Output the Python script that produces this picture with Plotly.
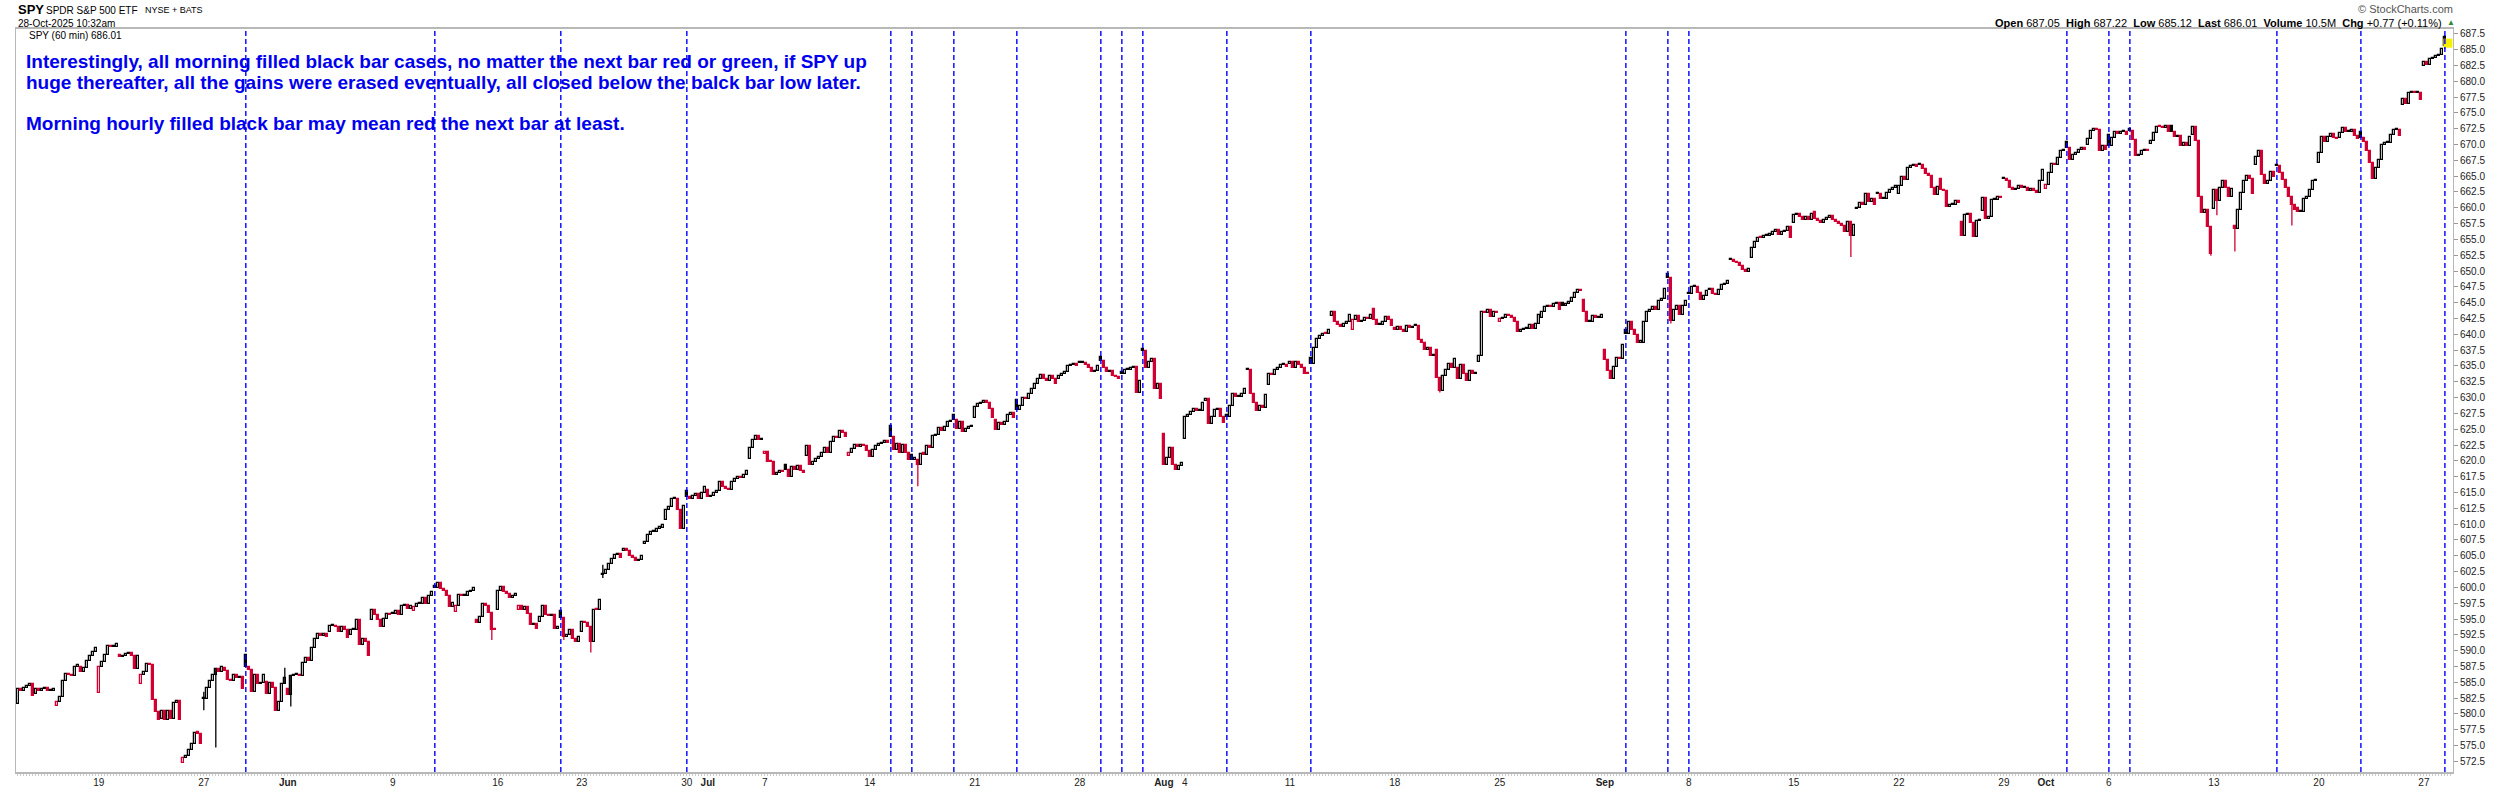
import pandas as pd
import plotly.graph_objects as go

# 交易日历 (60 min K线, 2025-05-13 10:30 起)
holidays = ["2025-05-26", "2025-06-19", "2025-07-04", "2025-09-01"]
trade_days = [d.strftime("%Y-%m-%d") for d in pd.bdate_range("2025-05-13", "2025-10-28")
              if d.strftime("%Y-%m-%d") not in holidays]

# 每日开盘价
day_opens = [
    581.5, 583.2, 581.2, 587.5, 583.3, 589.3, 584.7, 579.2, 572.2, 582.3, 587.3, 589.3, 585.0,
    584.0, 588.9, 593.0, 592.5, 594.9, 595.8, 596.3, 600.3, 596.1, 594.8, 596.5, 596.4, 594.5,
    596.3, 593.0, 602.0, 605.7, 606.9, 610.7, 615.3,
    615.4, 615.4, 620.3, 621.1, 619.4, 620.7, 622.0, 620.7, 621.5, 625.5, 621.0, 622.0, 627.3,
    626.7, 626.5, 629.6, 632.1, 632.9, 635.5, 636.4, 634.1, 637.7,
    624.3, 623.5, 629.5, 627.2, 634.3, 632.0, 635.3, 636.2, 642.9, 640.7, 644.0, 641.0, 641.5,
    637.5, 634.7, 635.7, 642.0, 640.4, 642.5, 645.0, 645.5,
    637.5, 640.7, 642.0, 649.6, 646.6, 647.0, 651.7, 652.0, 655.7, 657.6, 659.4, 658.1, 659.8,
    662.2, 662.2, 666.7, 664.5, 657.8, 659.5, 664.5, 663.1,
    662.9, 670.4, 669.9, 671.5, 672.5, 670.0, 673.0, 671.5, 659.8, 657.1, 666.7, 666.8, 660.0,
    667.1, 671.0, 671.9, 667.6, 676.3, 682.4, 687.05,
]

# 每小时收盘价 (按交易日分组)
hourly_closes = [
    # May
    [583.9, 583.7, 584.1, 584.4, 584.8, 582.9],
    [583.9, 583.6, 583.9, 584.1, 583.6, 583.6, 583.9],
    [581.9, 582.7, 585.2, 586.3, 586.1, 586.0, 587.5],
    [587.5, 586.6, 587.3, 588.4, 589.1, 589.8, 590.4],
    [587.5, 588.2, 589.3, 590.7, 590.6, 590.6, 591.1],
    [589.0, 589.2, 589.5, 589.7, 589.1, 587.1, 589.1],
    [586.1, 586.7, 587.9, 587.7, 582.2, 580.3, 579.1],
    [580.4, 579.0, 580.4, 579.2, 581.8, 582.1, 579.0],
    [573.0, 573.3, 574.3, 575.3, 577.0, 576.9, 575.2],
    [582.4, 584.1, 585.2, 586.2, 587.1, 586.6, 587.4],
    [586.8, 585.4, 585.2, 586.1, 585.7, 585.9, 583.9],
    [587.4, 587.0, 583.4, 586.1, 584.7, 584.9, 586.1],
    [583.1, 584.9, 584.1, 580.5, 581.9, 584.8, 585.7],
    # Jun
    [583.0, 586.0, 586.1, 586.1, 586.0, 588.1, 588.9],
    [588.3, 590.5, 591.9, 592.7, 592.3, 592.6, 592.2],
    [593.9, 593.9, 593.7, 593.0, 593.7, 593.2, 592.0],
    [593.2, 593.3, 594.8, 590.9, 591.9, 591.4, 589.1],
    [596.4, 595.6, 594.9, 593.7, 595.0, 595.8, 595.6],
    [595.8, 596.2, 595.6, 597.0, 597.2, 596.6, 597.1],
    [596.9, 597.4, 597.4, 598.3, 597.4, 598.6, 599.3],
    [599.9, 600.7, 599.7, 599.4, 598.6, 596.9, 597.6],
    [597.1, 598.8, 598.7, 598.7, 599.3, 599.5, 599.9],
    [594.3, 595.4, 597.4, 597.1, 595.9, 593.3, 593.2],
    [599.4, 600.0, 599.2, 598.9, 598.4, 598.6, 598.9],
    [597.1, 596.4, 596.9, 595.8, 594.0, 594.2, 593.5],
    [595.3, 597.1, 595.7, 595.5, 595.7, 593.5, 593.5],
    [595.2, 592.2, 592.5, 593.2, 591.9, 591.4, 592.1],
    [594.6, 594.4, 593.7, 591.4, 596.5, 596.4, 598.0],
    [602.1, 602.8, 603.7, 604.5, 605.1, 605.3, 604.6],
    [606.1, 605.8, 604.9, 604.6, 604.1, 604.3, 605.0],
    [607.1, 608.3, 608.7, 608.8, 609.3, 609.4, 609.8],
    [612.3, 612.7, 613.9, 614.0, 612.2, 609.2, 612.8],
    [614.3, 614.0, 614.5, 614.7, 614.0, 615.0, 615.9],
    # Jul
    [614.3, 614.5, 615.0, 615.2, 616.6, 615.8, 615.5],
    [615.4, 616.7, 617.2, 617.5, 617.3, 617.8, 618.4],
    [622.1, 623.3, 623.9, 623.3, 623.4],
    [621.4, 619.9, 619.8, 617.7, 618.1, 618.4, 618.2],
    [618.5, 617.4, 619.0, 618.6, 619.2, 618.4, 618.1],
    [622.3, 619.4, 619.9, 620.3, 620.6, 621.3, 622.0],
    [621.3, 623.0, 623.8, 623.6, 624.7, 624.4, 623.8],
    [621.2, 621.8, 622.5, 622.2, 622.5, 622.3, 621.5],
    [620.6, 621.7, 622.3, 622.6, 622.9, 623.1, 622.8],
    [623.7, 621.7, 622.7, 621.2, 622.5, 621.2, 620.1],
    [620.2, 620.2, 619.4, 621.1, 621.0, 622.3, 622.0],
    [623.9, 624.1, 625.2, 624.7, 625.4, 626.1, 626.1],
    [626.5, 625.1, 626.1, 624.6, 625.1, 625.4, 625.5],
    [628.5, 629.0, 629.1, 629.4, 629.1, 628.2, 626.7],
    [624.9, 626.0, 625.6, 626.1, 627.2, 627.5, 626.8],
    [628.0, 628.7, 630.0, 629.8, 630.5, 631.3, 632.1],
    [633.0, 633.6, 632.9, 632.6, 633.4, 633.0, 632.2],
    [633.4, 633.8, 634.0, 635.0, 635.1, 635.3, 635.0],
    [635.5, 635.5, 635.2, 634.7, 634.1, 634.2, 635.0],
    [635.8, 634.7, 634.0, 634.2, 633.4, 633.2, 633.0],
    [633.8, 634.4, 634.4, 634.6, 634.8, 630.7, 632.6],
    [637.4, 634.6, 635.6, 636.1, 631.3, 632.1, 629.8],
    # Aug
    [619.4, 620.5, 622.0, 619.3, 618.6, 619.2, 619.7],
    [626.9, 627.2, 627.8, 628.2, 627.9, 627.9, 629.1],
    [629.8, 625.9, 626.9, 628.0, 628.2, 626.9, 626.0],
    [626.9, 628.7, 630.5, 630.1, 630.1, 630.6, 631.3],
    [634.3, 630.5, 629.2, 627.9, 628.6, 628.4, 630.4],
    [633.7, 633.5, 634.4, 634.7, 635.2, 635.2, 634.9],
    [635.6, 634.6, 635.7, 635.2, 634.7, 633.8, 633.7],
    [635.3, 637.8, 639.3, 639.8, 640.1, 640.0, 640.7],
    [643.6, 641.9, 641.4, 641.2, 641.7, 642.0, 643.0],
    [642.2, 642.9, 641.9, 642.1, 642.6, 642.4, 643.0],
    [642.2, 641.4, 641.4, 642.0, 642.8, 642.2, 641.3],
    [640.7, 641.2, 640.7, 640.3, 641.3, 641.0, 641.2],
    [641.3, 639.1, 638.6, 637.5, 637.8, 636.5, 636.5],
    [633.1, 631.1, 633.4, 634.4, 635.3, 634.6, 636.1],
    [633.0, 635.2, 633.7, 632.6, 634.2, 633.7, 633.8],
    [636.5, 643.5, 643.3, 643.8, 642.7, 643.6, 643.3],
    [642.4, 642.6, 643.0, 642.9, 642.5, 641.9, 640.4],
    [640.7, 640.8, 640.8, 641.4, 640.8, 641.7, 643.1],
    [643.5, 644.3, 644.5, 644.3, 644.8, 645.0, 643.9],
    [644.5, 644.8, 645.1, 645.8, 646.5, 647.0, 646.9],
    [643.5, 641.9, 641.9, 642.9, 642.5, 642.5, 643.1],
    # Sep
    [636.0, 634.2, 633.0, 634.9, 636.2, 636.1, 638.3],
    [640.0, 642.0, 640.7, 639.9, 638.7, 638.7, 641.9],
    [643.5, 643.8, 644.3, 643.9, 645.2, 645.6, 647.1],
    [648.9, 642.1, 643.8, 644.5, 643.0, 644.4, 645.3],
    [646.4, 647.4, 647.5, 646.5, 645.5, 646.1, 646.9],
    [647.1, 646.4, 646.2, 647.0, 647.8, 648.0, 648.4],
    [651.7, 651.4, 651.3, 650.8, 650.2, 649.8, 650.3],
    [653.6, 654.6, 655.3, 655.2, 655.5, 655.6, 655.7],
    [656.2, 656.5, 655.7, 656.1, 656.4, 657.0, 655.3],
    [658.8, 659.0, 658.5, 658.1, 658.5, 658.1, 659.0],
    [658.3, 657.9, 657.6, 658.0, 658.4, 658.7, 658.1],
    [657.8, 657.4, 657.1, 656.2, 657.8, 655.5, 657.3],
    [660.0, 660.7, 660.4, 662.1, 660.9, 661.4, 660.4],
    [662.2, 661.4, 661.4, 662.4, 662.8, 663.1, 663.5],
    [663.5, 664.9, 664.4, 666.3, 666.6, 666.7, 666.5],
    [666.7, 666.1, 665.4, 665.0, 663.1, 662.0, 663.3],
    [662.8, 662.7, 660.1, 660.4, 660.5, 661.0, 660.8],
    [655.5, 658.8, 659.0, 657.6, 655.4, 657.9, 657.9],
    [661.6, 658.3, 658.5, 661.2, 661.2, 661.7, 661.5],
    [664.5, 664.3, 663.1, 662.8, 662.9, 663.5, 663.1],
    [663.1, 662.6, 662.9, 662.6, 662.3, 664.2, 665.9],
    # Oct
    [663.6, 665.5, 666.9, 666.8, 667.8, 668.9, 669.0],
    [669.4, 667.5, 668.4, 668.6, 669.1, 669.4, 669.1],
    [670.9, 672.1, 672.5, 672.3, 669.0, 669.8, 669.2],
    [669.8, 671.1, 671.9, 671.7, 672.0, 672.0, 671.5],
    [672.1, 670.7, 668.2, 668.4, 668.9, 669.0, 668.9],
    [670.5, 671.8, 672.8, 672.7, 672.6, 673.0, 672.0],
    [672.0, 671.2, 671.3, 669.8, 670.2, 669.7, 671.2],
    [672.8, 670.5, 661.7, 659.1, 659.6, 657.0, 652.7],
    [662.8, 661.0, 663.1, 664.2, 663.2, 661.7, 663.0],
    [656.6, 659.7, 662.3, 664.3, 665.0, 664.6, 662.2],
    [668.1, 669.0, 665.2, 663.8, 664.3, 665.7, 664.9],
    [666.6, 665.5, 664.4, 663.2, 661.7, 660.5, 659.7],
    [659.3, 659.3, 661.4, 661.7, 662.8, 664.2, 664.2],
    [668.6, 671.2, 670.4, 671.2, 671.7, 671.1, 670.9],
    [671.8, 672.6, 672.0, 672.0, 672.3, 671.3, 670.8],
    [671.1, 670.4, 669.0, 667.1, 664.5, 666.3, 667.6],
    [669.9, 670.2, 670.2, 671.5, 672.3, 672.3, 671.4],
    [677.2, 676.4, 678.1, 678.2, 678.1, 678.1, 677.0],
    [683.0, 682.5, 683.5, 683.7, 684.0, 684.1, 685.1],
    [685.5, 686.01],
]

# 明显的影线
wick_lows = {
    "2025-05-27 09:30": 580.6, "2025-05-27 13:30": 574.7, "2025-06-02 10:30": 581.2,
    "2025-06-13 14:30": 591.7, "2025-06-20 10:30": 591.7, "2025-06-23 12:30": 589.7,
    "2025-06-24 09:30": 601.5, "2025-07-16 11:30": 616.0, "2025-08-20 10:30": 630.8,
    "2025-09-05 10:30": 641.7, "2025-09-17 14:30": 652.2, "2025-10-10 15:30": 652.4,
    "2025-10-13 10:30": 658.8, "2025-10-14 09:30": 653.1, "2025-10-16 14:30": 657.2,
    "2025-10-28 09:30": 685.12,
}
wick_highs = {"2025-05-27 09:30": 583.5, "2025-05-30 15:30": 587.3, "2025-06-24 09:30": 603.6,
              "2025-10-28 09:30": 687.22}

# 早盘实心黑K 标记日 (竖虚线)
signal_days = ["2025-05-29", "2025-06-11", "2025-06-20", "2025-06-30", "2025-07-15", "2025-07-16",
               "2025-07-18", "2025-07-23", "2025-07-29", "2025-07-30", "2025-07-31", "2025-08-06",
               "2025-08-12", "2025-09-03", "2025-09-05", "2025-09-08", "2025-10-02", "2025-10-06",
               "2025-10-07", "2025-10-16", "2025-10-22", "2025-10-28"]

# x 轴刻度
tick_days = ["2025-05-19", "2025-05-27", "2025-06-02", "2025-06-09", "2025-06-16", "2025-06-23",
             "2025-06-30", "2025-07-01", "2025-07-07", "2025-07-14", "2025-07-21", "2025-07-28",
             "2025-08-01", "2025-08-04", "2025-08-11", "2025-08-18", "2025-08-25", "2025-09-02",
             "2025-09-08", "2025-09-15", "2025-09-22", "2025-09-29", "2025-10-01", "2025-10-06",
             "2025-10-13", "2025-10-20", "2025-10-27"]
tick_text = ["19", "27", "<b>Jun</b>", "9", "16", "23", "30", "<b>Jul</b>", "7", "14", "21", "28",
             "<b>Aug</b>", "4", "11", "18", "25", "<b>Sep</b>", "8", "15", "22", "29", "<b>Oct</b>",
             "6", "13", "20", "27"]

note_lines = [
    "Interestingly, all morning filled black bar cases, no matter the next bar red or green, if SPY up",
    "huge thereafter, all the gains were erased eventually, all closed below the balck bar low later.",
    "",
    "Morning hourly filled black bar may mean red the next bar at least.",
]

RED = "#D20032"
BLACK = "#000000"
BLUE = "#0000EE"
FONT = "Liberation Sans"

# 组装K线
opens, closes, highs, lows, colors, fills = [], [], [], [], [], []
day_first_bar = {}
prev_close = None
for day, day_open, cl in zip(trade_days, day_opens, hourly_closes):
    day_first_bar[day] = len(closes)
    first_hour = 10 if day == trade_days[0] else 9
    for k, c in enumerate(cl):
        o = day_open if k == 0 else cl[k - 1]
        stamp = f"{day} {first_hour + k:02d}:30"
        hi = max(o, c, wick_highs.get(stamp, c))
        lo = min(o, c, wick_lows.get(stamp, c))
        up = prev_close is None or c >= prev_close
        col = BLACK if up else RED
        opens.append(o)
        closes.append(c)
        highs.append(hi)
        lows.append(lo)
        colors.append(col)
        fills.append("white" if c >= o else col)
        prev_close = c

idx = list(range(len(closes)))
body_base = [min(o, c) for o, c in zip(opens, closes)]
body_h = [max(abs(c - o), 0.18) for o, c in zip(opens, closes)]

fig = go.Figure()

# 影线
for col in (BLACK, RED):
    wx, wy = [], []
    for i in idx:
        if colors[i] == col and (highs[i] > max(opens[i], closes[i]) or lows[i] < min(opens[i], closes[i])):
            wx += [i, i, None]
            wy += [lows[i], highs[i], None]
    fig.add_trace(go.Scatter(x=wx, y=wy, mode="lines", line=dict(color=col, width=1.3),
                             hoverinfo="skip", showlegend=False))

# 最新价高亮
fig.add_trace(go.Scatter(x=[idx[-1]], y=[closes[-1]], mode="markers",
                         marker=dict(symbol="square", size=9, color="#F5F000"),
                         hoverinfo="skip", showlegend=False))

# 实体
fig.add_trace(go.Bar(
    x=idx, y=body_h, base=body_base, width=0.85,
    marker=dict(color=fills, line=dict(color=colors, width=1.25)),
    customdata=list(zip(opens, highs, lows, closes)),
    hovertemplate="O %{customdata[0]}<br>H %{customdata[1]}<br>L %{customdata[2]}<br>C %{customdata[3]}<extra></extra>",
    showlegend=False,
))

# 竖虚线
for d in signal_days:
    fig.add_shape(type="line", x0=day_first_bar[d], x1=day_first_bar[d], y0=0, y1=1,
                  xref="x", yref="paper", line=dict(color="#0000FF", width=1.4, dash="5px,3px"))

W, H = 2500, 800
ML, MR, MT, MB = 16, 47, 29, 16
PW, PH = W - ML - MR, H - MT - MB


def px(x):
    return (x - ML) / PW


def py(y):
    return 1 - (y - MT) / PH


def add_text(x, y, text, size, color="#000", anchor="left", bold=False):
    fig.add_annotation(x=px(x), y=py(y), xref="paper", yref="paper", text=f"<b>{text}</b>" if bold else text,
                       showarrow=False, xanchor=anchor, yanchor="middle",
                       font=dict(family=FONT, size=size, color=color))


add_text(16, 9, "SPY", 13, bold=True)
add_text(44, 10, "SPDR S&P 500 ETF", 10)
add_text(143, 10, "NYSE + BATS", 9)
add_text(16, 23, "28-Oct-2025 10:32am", 10)
add_text(27, 36, "SPY (60 min) 686.01", 10)
add_text(2455, 9, "© StockCharts.com", 11, color="#555", anchor="right")
add_text(2444, 23, "<b>Open</b> 687.05  <b>High</b> 687.22  <b>Low</b> 685.12  <b>Last</b> 686.01  "
         "<b>Volume</b> 10.5M  <b>Chg</b> +0.77 (+0.11%)", 11, anchor="right")
add_text(2445, 22, "▲", 8, color="#2E8B2E")
for k, line in enumerate(note_lines):
    if line:
        add_text(24, 62 + 21 * k, line, 19, color=BLUE, bold=True)

fig.update_layout(
    width=W, height=H,
    margin=dict(l=ML, r=MR, t=MT, b=MB),
    plot_bgcolor="white", paper_bgcolor="white",
    showlegend=False, bargap=0,
    font=dict(family=FONT, size=10, color="#222"),
    xaxis=dict(
        range=[-0.6, 811.7], tickmode="array",
        tickvals=[day_first_bar[d] for d in tick_days], ticktext=tick_text,
        showgrid=False, zeroline=False, showline=True, linecolor="#b8b8b8", linewidth=2, mirror=True,
        ticks="", tickfont=dict(family=FONT, size=10, color="#222"),
        minor=dict(tickmode="linear", tick0=0, dtick=1, ticks="outside", ticklen=2,
                   tickcolor="#c8c8c8", showgrid=False),
    ),
    yaxis=dict(
        side="right", range=[570.83, 688.25], tick0=572.5, dtick=2.5, tickformat=".1f",
        showgrid=False, zeroline=False, showline=True, linecolor="#b8b8b8", linewidth=1, mirror=True,
        ticks="outside", ticklen=4, tickcolor="#999", tickfont=dict(family=FONT, size=10, color="#222"),
    ),
)

# 页面默认 body 边距会让图整体偏移 8px, 这里去掉; 不显示工具栏
fig.write_html("out.html", config={"displayModeBar": False},
               post_script="document.body.style.margin='0';document.body.style.overflow='hidden';")
